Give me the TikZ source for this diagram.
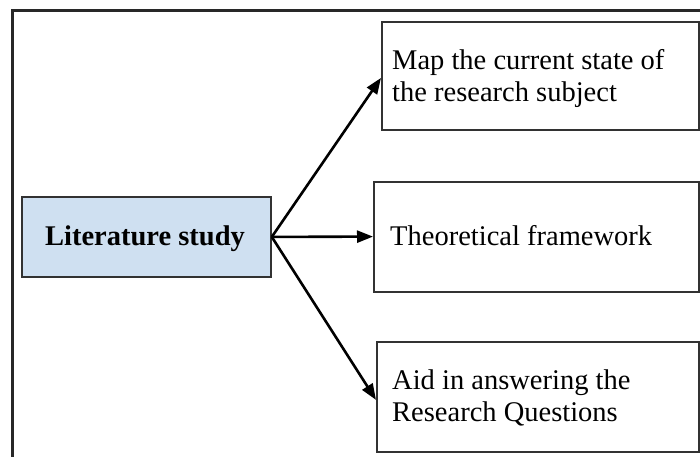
\documentclass[tikz,border=0pt]{standalone}
\usepackage{fontspec}
\setmainfont{Liberation Serif}
\usetikzlibrary{arrows.meta}
\definecolor{litblue}{RGB}{207,224,241}
\definecolor{frameline}{RGB}{40,40,40}
\definecolor{boxline}{RGB}{50,50,50}
\begin{document}
\begin{tikzpicture}[x=1pt,y=-1pt,
  boxshape/.style={draw=boxline,line width=1.8pt,rectangle,inner sep=0pt,anchor=north west},
  boxtext/.style={inner sep=0pt,anchor=base west,align=left,
    font=\fontsize{28.5}{32.5}\selectfont},
  flow/.style={line width=2.6pt,-{Triangle[length=16pt,width=12pt]}}]
  \useasboundingbox (0,0) rectangle (700,456);
  \clip (0,0) rectangle (700,456);
  % outer frame, running off the right and bottom edges
  \draw[frameline,line width=2.2pt] (12.5,10.5) rectangle (760,500);
  % source box
  \node[boxshape,fill=litblue,minimum width=249.3pt,minimum height=80pt] (lit) at (20.7,196) {};
  \node[inner sep=0pt,anchor=base,font=\fontsize{28.5}{32.5}\selectfont\bfseries] (littext) at (145,245) {Literature study};
  % target boxes (multi-line labels are placed by the baseline of their last line)
  \node[boxshape,minimum width=317pt,minimum height=108.6pt] (map) at (381,20.7) {};
  \node[boxtext] (maptext) at (392,101.7) {Map the current state of\\the research subject};
  \node[boxshape,minimum width=325pt,minimum height=110pt] (theory) at (373,180.7) {};
  \node[boxtext] (theorytext) at (390,245) {Theoretical framework};
  \node[boxshape,minimum width=322pt,minimum height=110pt] (aid) at (376,341) {};
  \node[boxtext] (aidtext) at (392,421.7) {Aid in answering the\\Research Questions};
  % connectors
  \draw[flow] (lit.east) -- ([yshift=-2pt]map.west);
  \draw[flow] (lit.east) -- (theory.west);
  \draw[flow] (lit.east) -- ([yshift=-3pt]aid.west);
\end{tikzpicture}
\end{document}
